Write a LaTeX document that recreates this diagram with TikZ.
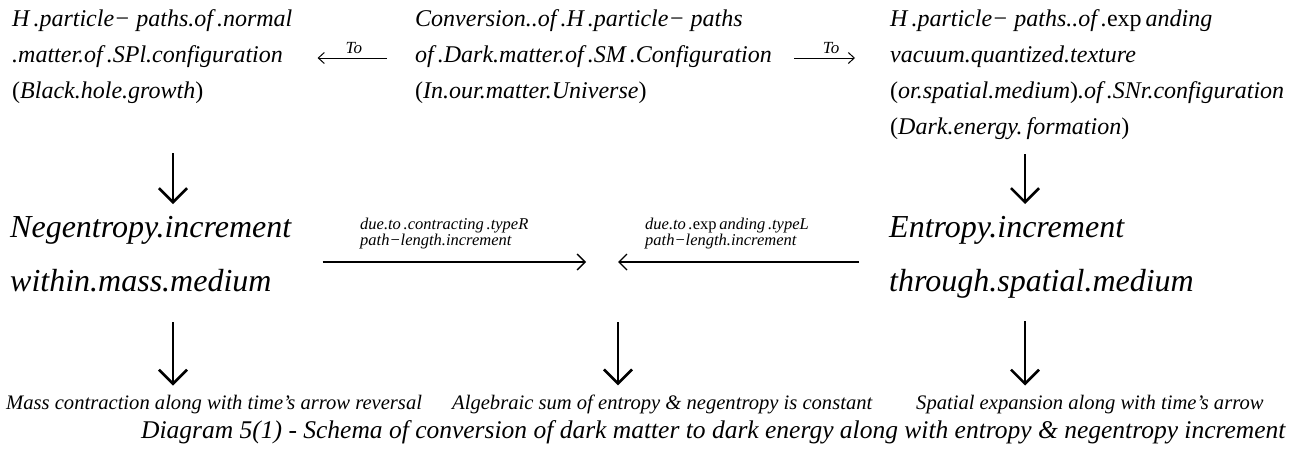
\documentclass[tikz,border=0pt]{standalone}
\usepackage{fontspec}
\setmainfont{Liberation Serif}
\usetikzlibrary{arrows.meta}
\begin{document}
\begin{tikzpicture}[x=1pt,y=-1pt,
  blk/.style={align=left, inner sep=0pt, anchor=north west},
  topf/.style={blk, font=\fontsize{24}{36}\selectfont\itshape},
  midf/.style={blk, font=\fontsize{32}{54}\selectfont\itshape},
  lbl/.style={inner sep=0pt, align=left, anchor=south west, font=\fontsize{16.5}{15}\selectfont\itshape},
  tolbl/.style={inner sep=0pt, font=\fontsize{17}{17}\selectfont\itshape},
  capf/.style={inner sep=0pt, anchor=base west, font=\fontsize{20.6}{21}\selectfont\itshape},
  bigcap/.style={inner sep=0pt, anchor=base west, font=\fontsize{25.5}{26}\selectfont\itshape},
  thinarr/.style={line width=1pt, -{Straight Barb[length=6pt,width=11pt]}},
  midarr/.style={line width=1.4pt, -{Straight Barb[length=8pt,width=16pt,line width=1.4pt]}},
  downarr/.style={line width=2.2pt, -{Straight Barb[length=14pt,width=28pt,line width=2.6pt]}}
]
\useasboundingbox (0,0) rectangle (1301,450);

% top row
\node[topf] (tl) at (12,9) {H\,.particle−\ paths.of\,.normal\\.matter.of\,.SPl.configuration\\\textup{(}Black.hole.growth\textup{)}};
\node[topf] (tm) at (415,9) {Conversion..of\,.H\,.particle−\ paths\\of\,.Dark.matter.of\,.SM\,.Configuration\\\textup{(}In.our.matter.Universe\textup{)}};
\node[topf] (tr) at (890,9) {H\,.particle−\ paths..of\,.\textup{exp}\,anding\\vacuum.quantized.texture\\\textup{(}or.spatial.medium\textup{)}.of\,.SNr.configuration\\\textup{(}Dark.energy.\,formation\textup{)}};

\coordinate (r2) at (0,58);
\draw[thinarr, shorten <=28pt, shorten >=25pt] (tm.west |- r2) -- (tl.east |- r2)
  node[tolbl, midway, above=4pt] (to1) {To};
\draw[thinarr, shorten <=22pt, shorten >=35pt] (tm.east |- r2) -- (tr.west |- r2)
  node[tolbl, midway, above=4pt] (to2) {To};

% middle row
\node[midf] (nl) at (10,216) {Negentropy.increment\\within.mass.medium};
\node[midf] (nr) at (889,216) {Entropy.increment\\through.spatial.medium};

\coordinate (xl) at (173,0);
\coordinate (xr) at (1025,0);
\coordinate (xm) at (618,0);
\coordinate (meet) at (602,262);

\draw[downarr, shorten <=50pt, shorten >=12pt] (tl.south -| xl) -- (nl.north -| xl);
\draw[downarr, shorten <=15pt, shorten >=12pt] (tr.south -| xr) -- (nr.north -| xr);

\draw[midarr, shorten <=31pt, shorten >=16pt] (nl.east |- meet) -- (meet);
\draw[midarr, shorten <=30pt, shorten >=16pt] (nr.west |- meet) -- (meet);
\node[lbl] (lb1) at (360,249) {due.to\,.contracting\,.typeR\\path−length.increment};
\node[lbl] (lb2) at (645,249) {due.to\,.\textup{exp}\,anding\,.typeL\\path−length.increment};

% bottom captions
\node[capf] (bl) at (6,409) {Mass contraction along with time's arrow reversal};
\node[capf] (bm) at (452,409) {Algebraic sum of entropy \& negentropy is constant};
\node[capf] (br) at (916,409) {Spatial expansion along with time's arrow};
\node[bigcap] (cap) at (141,438) {Diagram 5(1) - Schema of conversion of dark matter to dark energy along with entropy \& negentropy increment};

\draw[downarr, shorten <=30pt, shorten >=9pt] (nl.south -| xl) -- (bl.north -| xl);
\draw[downarr, shorten <=30pt, shorten >=9pt] (nl.south -| xm) -- (bm.north -| xm);
\draw[downarr, shorten <=23pt, shorten >=9pt] (nr.south -| xr) -- (br.north -| xr);
\end{tikzpicture}
\end{document}
